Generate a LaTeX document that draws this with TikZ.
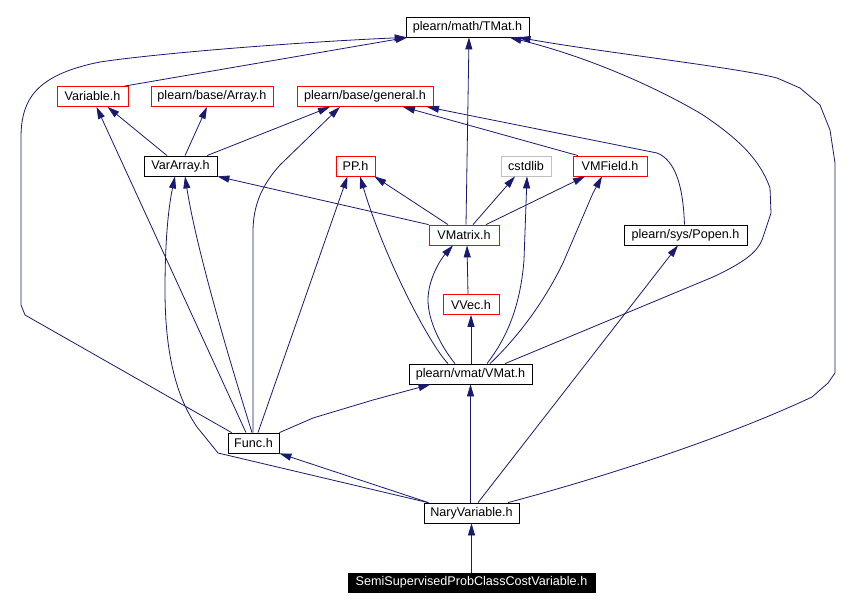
\documentclass[tikz,border=0pt]{standalone}
\usepackage{fontspec}
\setmainfont{Liberation Sans}
\usetikzlibrary{arrows.meta}
\definecolor{edgeblue}{RGB}{25,25,112}
\begin{document}
\begin{tikzpicture}[x=1pt,y=-1pt,
  box/.style={draw=black, line width=0.8pt, minimum height=20pt, inner sep=0pt, font=\fontsize{12.6}{14}\selectfont, text=black},
  redbox/.style={box, draw=red},
  graybox/.style={box, draw=gray!50},
  dep/.style={draw=edgeblue, line width=0.8pt, -{Triangle[length=12pt,width=7pt]}}
]
\useasboundingbox (0,0) rectangle (853,609);
\fill[white] (0,0) rectangle (853,609);

\node[box, minimum width=123pt] (tmat) at (467.5,27) {plearn/math/TMat.h};
\node[redbox, minimum width=71pt] (var) at (92.5,96.5) {Variable.h};
\node[redbox, minimum width=122pt] (arr) at (212,96.5) {plearn/base/Array.h};
\node[redbox, minimum width=136pt] (gen) at (365,96.5) {plearn/base/general.h};
\node[box, minimum width=73pt] (vararr) at (180.5,166) {VarArray.h};
\node[redbox, minimum width=39pt] (pp) at (355.5,166) {PP.h};
\node[graybox, minimum width=50pt] (cstd) at (526,166) {cstdlib};
\node[redbox, minimum width=74pt] (vmf) at (610,166) {VMField.h};
\node[redbox, minimum width=70pt] (vmx) at (464,235) {VMatrix.h};
\node[box, minimum width=123pt] (popen) at (685.5,235) {plearn/sys/Popen.h};
\node[redbox, minimum width=56pt] (vvec) at (471,304.5) {VVec.h};
\node[box, minimum width=123pt] (vmat) at (470.5,374) {plearn/vmat/VMat.h};
\node[box, minimum width=51pt] (func) at (253.5,443) {Func.h};
\node[box, minimum width=95pt] (nary) at (471.5,513) {NaryVariable.h};
\node[box, fill=black, text=white, minimum width=247pt, minimum height=19pt] (semi) at (471.5,582.5) {SemiSupervisedProbClassCostVariable.h};

\draw[dep] ([xshift=32pt]var.north) -- ([xshift=2pt]tmat.south west);
\draw[dep] ([xshift=4pt]func.north west) -- (25,315) -- (21,305) -- (21,135) .. controls (22,100) and (35,75) .. (100,62) .. controls (160,53) and (300,42) .. ([xshift=1pt]tmat.south west);
\draw[dep] ([xshift=2pt]vmx.north) -- ([xshift=1.5pt]tmat.south);
\draw[dep] ([xshift=34.5pt]vmat.north) -- (713,277) .. controls (745,262) and (757,252) .. (762,240) -- (771,213) -- (770,188) .. controls (760,160) and (740,140) .. (703,115) .. controls (670,95) and (600,60) .. ([xshift=42pt]tmat.south);
\draw[dep] ([xshift=36.5pt]nary.north) .. controls (600,478) and (720,440) .. (812,397) -- (828,383) -- (835,373) -- (835,163) -- (830,130) -- (820,105) -- (800,88) -- (777,78) .. controls (740,68) and (600,52) .. ([xshift=51pt]tmat.south);
\draw[dep] ([xshift=-32pt]vmf.north) -- ([xshift=38pt]gen.south);
\draw[dep] ([xshift=-1pt]popen.north) -- (684,215) .. controls (682,185) and (675,160) .. (657,153) -- ([xshift=62pt]gen.south);
\draw[dep] ([xshift=-13.5pt]vararr.north) -- ([xshift=15pt]var.south);
\draw[dep] ([xshift=-7.5pt]func.north) -- ([xshift=4pt]var.south);
\draw[dep] ([xshift=4.5pt]vararr.north) -- ([xshift=-5pt]arr.south);
\draw[dep] ([xshift=26.5pt]vararr.north) -- ([xshift=-35pt]gen.south);
\draw[dep] ([xshift=-0.5pt]func.north) -- (253,232) .. controls (253,205) and (262,185) .. (280,165) -- ([xshift=-25pt]gen.south);
\draw[dep] ([xshift=-1.5pt]func.north) .. controls (220,330) and (195,240) .. ([xshift=4.5pt]vararr.south);
\draw[dep] ([xshift=-43.5pt]nary.north) -- (218,453) -- (197,427) .. controls (175,395) and (165,350) .. (165,290) .. controls (165,230) and (170,200) .. ([xshift=-5.5pt]vararr.south);
\draw[dep] (vmx.north west) -- (vararr.south east);
\draw[dep] ([xshift=-16pt]vmx.north) -- ([xshift=-1pt]pp.south east);
\draw[dep] ([xshift=4.5pt]func.north) -- ([xshift=-8pt]pp.south);
\draw[dep] ([xshift=-22.5pt]vmat.north) .. controls (430,345) and (385,260) .. ([xshift=4.5pt]pp.south);
\draw[dep] ([xshift=9pt]vmx.north) -- ([xshift=-11pt]cstd.south);
\draw[dep] ([xshift=16.5pt]vmat.north) .. controls (505,340) and (520,310) .. (524,260) -- ([xshift=1pt]cstd.south);
\draw[dep] ([xshift=22pt]vmx.north) -- ([xshift=-25pt]vmf.south);
\draw[dep] ([xshift=19.5pt]vmat.north) .. controls (520,335) and (545,300) .. (563,263) -- (593,193) -- ([xshift=-8pt]vmf.south);
\draw[dep] ([xshift=-3pt]vvec.north) -- ([xshift=3pt]vmx.south);
\draw[dep] ([xshift=-15.5pt]vmat.north) .. controls (440,345) and (428,320) .. (428,300) .. controls (428,280) and (440,260) .. ([xshift=-11pt]vmx.south);
\draw[dep] ([xshift=0.5pt]vmat.north) -- (vvec.south);
\draw[dep] (func.north east) -- (313,418) -- (373,400) -- ([xshift=-40pt]vmat.south);
\draw[dep] ([xshift=-1pt]nary.north) -- (vmat.south);
\draw[dep] ([xshift=6.5pt]nary.north) -- ([xshift=-7.5pt]popen.south);
\draw[dep] ([xshift=-43pt]nary.north) -- (func.south east);
\draw[dep] (semi.north) -- (nary.south);
\end{tikzpicture}
\end{document}
